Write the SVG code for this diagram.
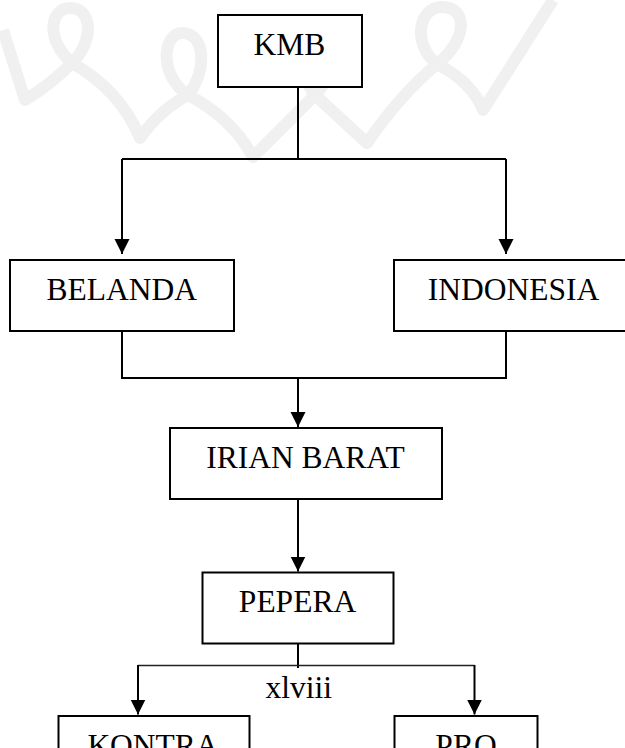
<svg xmlns="http://www.w3.org/2000/svg" width="625" height="748" viewBox="0 0 625 748">
<style>
.box{fill:#fff;stroke:#000;stroke-width:2}
.lbl{font-family:"Liberation Serif","Times New Roman",serif;font-size:31.5px;fill:#000;text-anchor:middle}
.wm{fill:none;stroke:#f0f0f0;stroke-width:12;stroke-linejoin:round}
.ln{fill:none;stroke:#000;stroke-width:2}
.thin{fill:none;stroke:#222;stroke-width:1.5}
</style>
<defs>
<marker id="arr" markerUnits="userSpaceOnUse" markerWidth="16" markerHeight="16" viewBox="0 0 16 16" refX="15" refY="8" orient="auto">
<path d="M0,0.5 L15,8 L0,15.5 Z" fill="#000"/>
</marker>
</defs>
<rect width="625" height="748" fill="#fff"/>
<g id="watermark">
<path class="wm" d="M3,30 L25,100 Q50,85 72,63 C45,40 50,8 70,8 C92,8 95,40 72,63 Q120,90 140,138 Q160,110 188,95 C158,75 163,33 182,33 C205,33 208,70 188,95 Q232,118 253,157 L315,95 C295,70 300,30 318,30 C338,30 340,70 315,95 L367,143 Q400,95 437,64 C412,45 418,7 442,7 C468,7 468,40 437,64 Q472,82 483,110 L553,0"/>
</g>
<g id="connectors">
<path class="ln" d="M298,87 V159 M122,159 H506"/>
<path class="ln" d="M122,159 V254" marker-end="url(#arr)"/>
<path class="ln" d="M506,159 V254" marker-end="url(#arr)"/>
<path class="ln" d="M122,332 V378 H506 V332"/>
<path class="ln" d="M298,378 V427" marker-end="url(#arr)"/>
<path class="ln" d="M298,499 V571.5" marker-end="url(#arr)"/>
<path class="ln" d="M298,644 V668"/>
<path class="thin" d="M138,665.5 H474.5"/>
<path class="ln" d="M138,665 V714.5" marker-end="url(#arr)"/>
<path class="ln" d="M474.5,665 V714.5" marker-end="url(#arr)"/>
</g>
<g id="kmb">
<rect class="box" x="218" y="15" width="144" height="72"/>
<text class="lbl" x="289.5" y="55">KMB</text>
</g>
<g id="belanda">
<rect class="box" x="10" y="260" width="224" height="71"/>
<text class="lbl" x="121.7" y="300">BELANDA</text>
</g>
<g id="indonesia">
<rect class="box" x="394" y="260" width="240" height="71"/>
<text class="lbl" x="513.5" y="300">INDONESIA</text>
</g>
<g id="irian-barat">
<rect class="box" x="170" y="428" width="272" height="71"/>
<text class="lbl" x="305.5" y="468.3">IRIAN BARAT</text>
</g>
<g id="pepera">
<rect class="box" x="202.5" y="572.5" width="191" height="71"/>
<text class="lbl" x="297.5" y="612.3">PEPERA</text>
</g>
<g id="page-number">
<text class="lbl" x="298.7" y="698.3">xlviii</text>
</g>
<g id="kontra">
<rect class="box" x="58.5" y="716" width="191" height="80"/>
<text class="lbl" x="153" y="756">KONTRA</text>
</g>
<g id="pro">
<rect class="box" x="394.5" y="716" width="143" height="80"/>
<text class="lbl" x="466" y="756">PRO</text>
</g>
</svg>
